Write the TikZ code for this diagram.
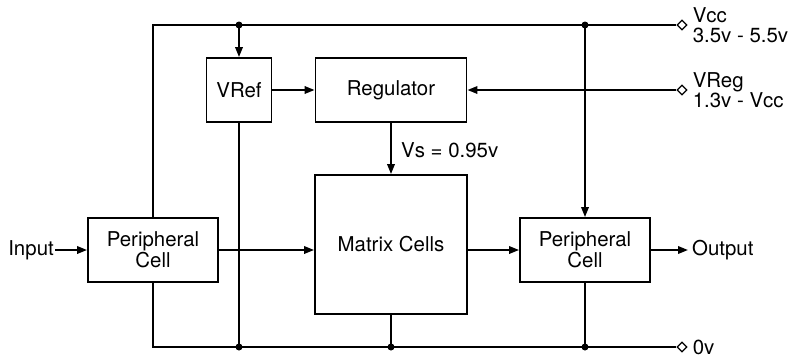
\documentclass[tikz,border=0pt]{standalone}
\usepackage{fontspec}
\setmainfont{TeX Gyre Heros}
\usepackage{tikz}
\usetikzlibrary{arrows.meta,calc,positioning,shapes.geometric}

\tikzset{
  blk/.style={draw,line width=1.9bp,align=center,inner sep=0pt},
  txt/.style={inner sep=1bp,align=left},
  pin/.style={draw,diamond,fill=white,line width=1.2bp,inner sep=0pt,minimum size=10bp},
  sig/.style={line width=1.9bp},
  feed/.style={sig,-{Triangle[length=10bp,width=7.5bp]}}
}

\begin{document}
\begin{tikzpicture}[x=1bp,y=-1bp,font=\fontsize{20.5}{19.5}\selectfont]
  \useasboundingbox (0,0) rectangle (795,358);
  \node[blk,minimum width=65bp,minimum height=64bp] (vref) at (239,90) {VRef};
  \node[blk,minimum width=151bp,minimum height=64bp] (reg) at (391,90) {Regulator};
  \node[blk,minimum width=152bp,minimum height=139bp] (mat) at (391,244.5) {Matrix Cells};
  \node[blk,minimum width=130bp,minimum height=64bp] (lper) at (153,250) {Peripheral\\Cell};
  \node[blk,minimum width=130bp,minimum height=64bp] (rper) at (585,250) {Peripheral\\Cell};
  \node[pin] (vcc) at (682,25) {};
  \node[pin] (vreg) at (682,90) {};
  \node[pin] (gnd) at (682,347) {};
  \node[txt,anchor=west] (vcclbl) at ([xshift=4bp]vcc.east) {Vcc\\3.5v - 5.5v};
  \node[txt,anchor=west] (vreglbl) at ([xshift=4bp]vreg.east) {VReg\\1.3v - Vcc};
  \node[txt,anchor=west] (gndlbl) at ([xshift=4bp]gnd.east) {0v};
  \node[txt,anchor=east] (in) at (55,250) {Input};
  \node[txt,anchor=west,inner xsep=4bp] (out) at (688,250) {Output};
  \node[txt,anchor=west] (vs) at (400,150) {Vs = 0.95v};
  \coordinate (t1) at (vref.north |- vcc);
  \coordinate (t2) at (rper.north |- vcc);
  \coordinate (b1) at (vref.south |- gnd);
  \coordinate (b2) at (mat.south |- gnd);
  \coordinate (b3) at (rper.south |- gnd);
  \draw[sig] (lper.north) |- (vcc.west);
  \draw[sig] (lper.south) |- (gnd.west);
  \draw[feed] (t1) -- (vref.north);
  \draw[feed] (t2) -- (rper.north);
  \draw[feed] (vref) -- (reg);
  \draw[feed] (vreg.west) -- (reg.east);
  \draw[feed] (reg) -- (mat);
  \draw[feed] (in) -- (lper);
  \draw[feed] (lper.east) -- (lper.east -| mat.west);
  \draw[feed] (rper.west -| mat.east) -- (rper.west);
  \draw[feed] (rper) -- (out);
  \draw[sig] (vref.south) -- (b1);
  \draw[sig] (mat.south) -- (b2);
  \draw[sig] (rper.south) -- (b3);
  \foreach \p in {t1,t2,b1,b2,b3} \fill (\p) circle (3.5bp);
\end{tikzpicture}
\end{document}
